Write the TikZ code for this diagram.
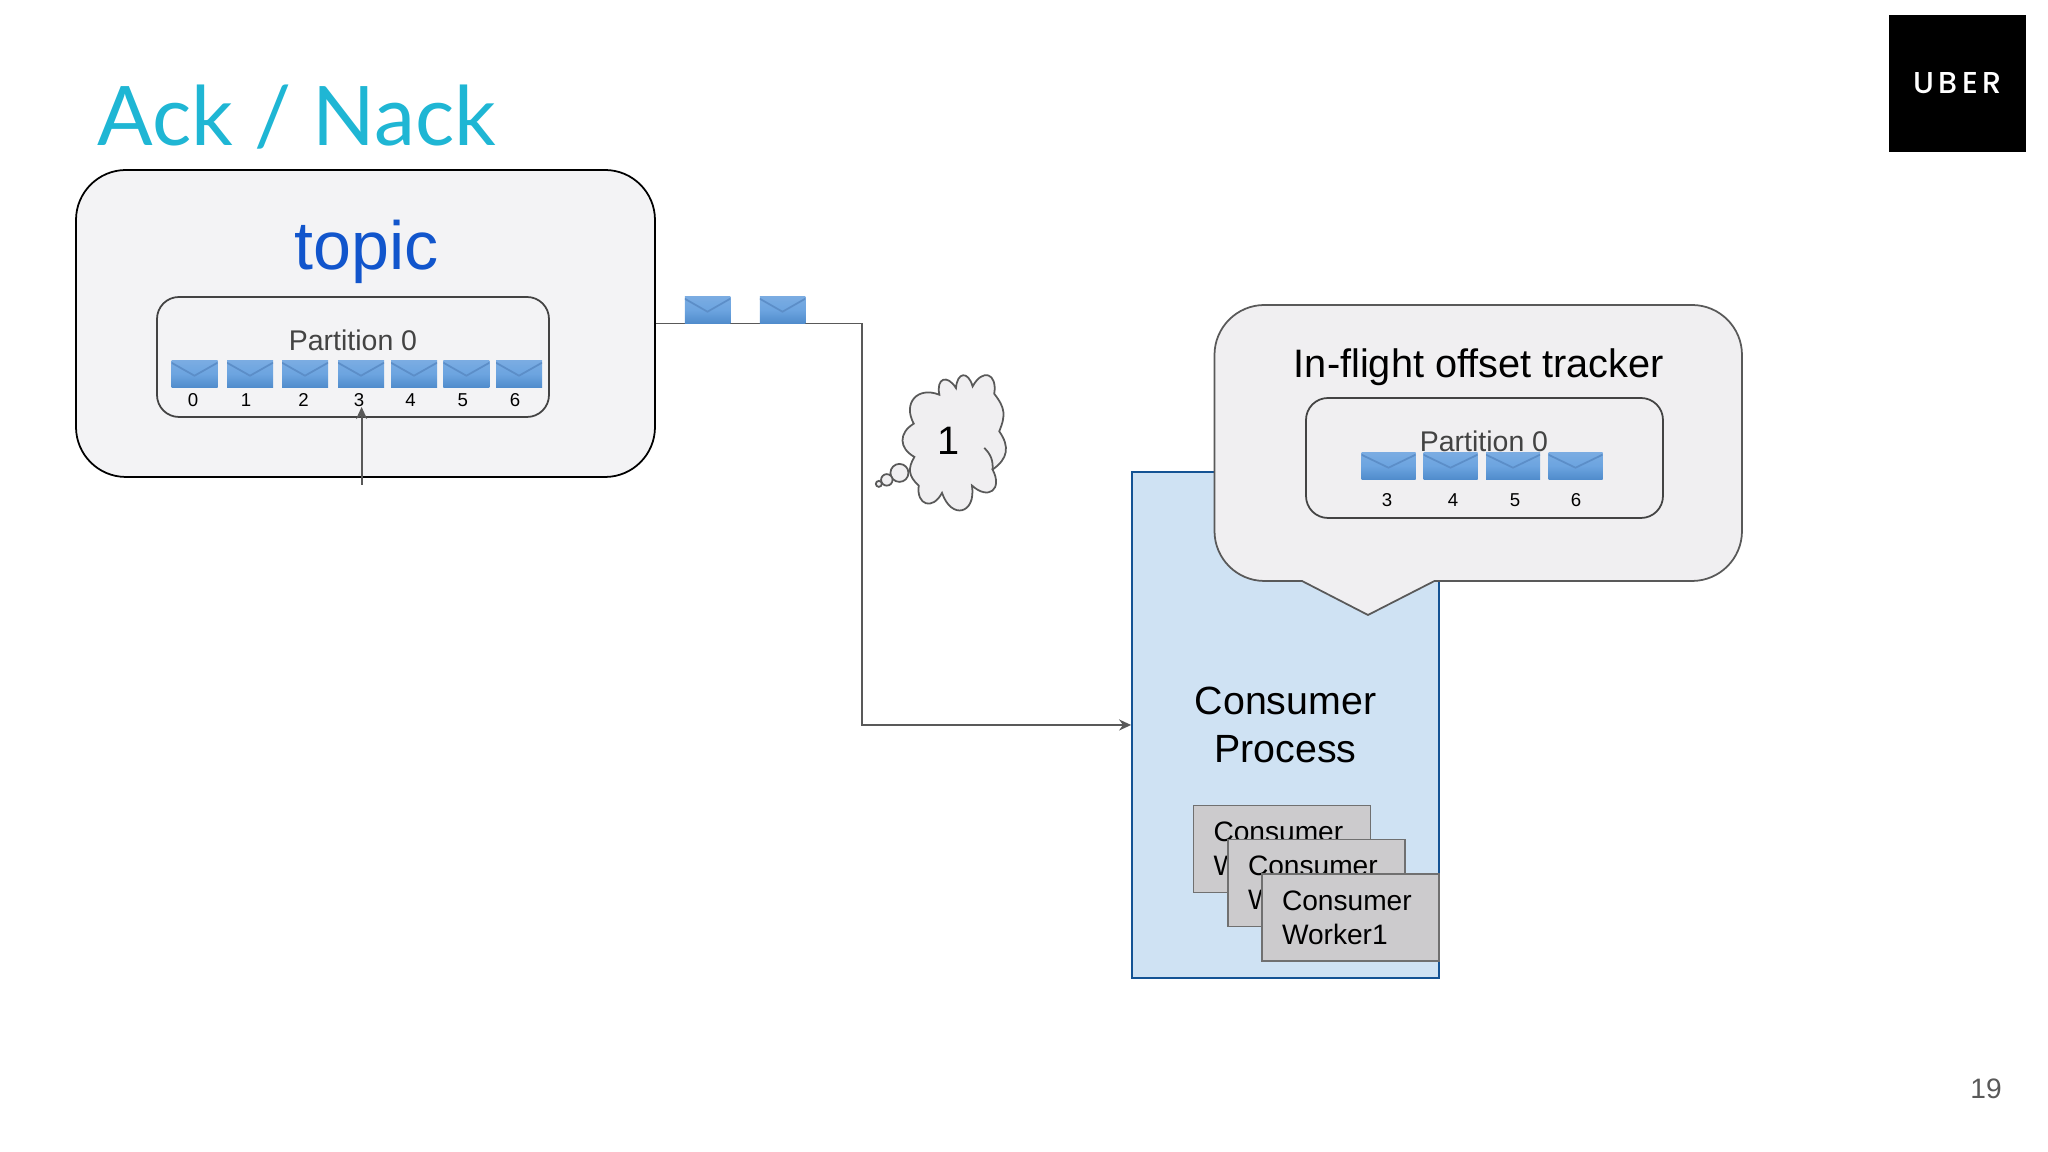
\documentclass[tikz,border=0pt]{standalone}
\usepackage{fontspec}
\setmainfont{Liberation Sans}
\newfontfamily\titlefont{Lato}
\newfontfamily\uberfont[LetterSpace=15]{Poppins Medium}
\usetikzlibrary{arrows.meta}
\tikzset{every picture/.style={line width=0.5pt}}
\definecolor{ack-cyan}{RGB}{31,182,212}
\definecolor{topic-blue}{RGB}{17,85,204}
\definecolor{box-gray}{RGB}{243,243,245}
\definecolor{bubble-gray}{RGB}{240,239,241}
\definecolor{line-gray}{RGB}{89,89,89}
\definecolor{text-gray}{RGB}{67,67,67}
\definecolor{proc-blue}{RGB}{207,226,243}
\definecolor{proc-line}{RGB}{20,83,148}
\definecolor{worker-gray}{RGB}{204,203,205}
\definecolor{worker-line}{RGB}{112,112,112}

\newcommand{\fsize}[2]{\fontsize{#1}{#2}\selectfont}

\begin{document}
\begin{tikzpicture}
    [outer/.style = {rectangle, draw=black, fill=box-gray, rounded corners=0.5cm,
            minimum width=5.79cm, minimum height=3.07cm},
    part/.style = {rectangle, draw=text-gray, rounded corners=0.22cm},
    parttext/.style = {text=text-gray, font=\fsize{8.1}{10}},
    num/.style = {font=\fsize{5.3}{6}},
    envelope/.style = {rectangle, inner sep=0pt, minimum width=#1, minimum height=0.265cm,
            top color=env-top, bottom color=env-bot, middle color=env-mid,
            path picture={
                \draw[env-line, line width=0.5pt]
                    ([yshift=-0.02cm]path picture bounding box.north west)
                    -- ([yshift=-0.15cm]path picture bounding box.north)
                    -- ([yshift=-0.02cm]path picture bounding box.north east);}},
    envelope/.default=0.46cm,
    flow/.style = {draw=line-gray, line width=0.55pt, -{Stealth[length=0.12cm, width=0.11cm]}},
    worker/.style = {rectangle, draw=worker-line, line width=0.5pt, fill=worker-gray, align=left,
            text width=1.37cm, inner xsep=0.2cm, minimum height=0.87cm, font=\fsize{8}{9.7}},
    cloudline/.style = {draw=line-gray, fill=bubble-gray, line width=0.5pt},
    ]
    \definecolor{env-top}{RGB}{122,172,226}
    \definecolor{env-mid}{RGB}{108,164,224}
    \definecolor{env-bot}{RGB}{80,140,204}
    \definecolor{env-line}{RGB}{92,142,200}

    \useasboundingbox (0, 0) rectangle (20.48, 11.52);

    \node[text=ack-cyan, font=\titlefont\fsize{23.4}{28}] (title) at (2.97, 10.35) {Ack / Nack};

    \node[fill=black, minimum width=1.37cm, minimum height=1.37cm] (logo) at (19.575, 10.685) {};
    \node[text=white, font=\uberfont\fsize{8.6}{9}] (logo-text) at (logo.center) {UBER};
    \node[text=line-gray, font=\fsize{8}{10}] (page) at (19.86, 0.63) {19};

    % topic side
    \node[outer] (topic) at (3.655, 8.285) {};
    \node[text=topic-blue, font=\fsize{19.4}{22}] (topic-text) at (3.67, 9.0) {topic};
    \node[part, minimum width=3.92cm, minimum height=1.2cm] (part) at (3.53, 7.95) {};
    \node[parttext] (part-text) at (3.53, 8.12) {Partition 0};
    \foreach \n/\x/\t in {0/1.945/1.93, 1/2.5/2.46, 2/3.05/3.035, 3/3.61/3.59, 4/4.14/4.106, 5/4.664/4.628, 6/5.19/5.15} {
        \node[envelope] (msg-\n) at (\x, 7.78) {};
        \node[num] (msg-\n-text) at (\t, 7.52) {\n};
    }
    \coordinate (ack-from) at (3.616, 6.67);
    \coordinate (ack-to) at (3.616, 7.45);
    \draw[flow] (ack-from) -- (ack-to);

    % consumer side
    \node[rectangle, draw=proc-line, fill=proc-blue, align=center, minimum width=3.07cm,
        minimum height=5.06cm, font=\fsize{11.2}{13.7}] (consumer) at (12.855, 4.27) {Consumer\\Process};
    \node[worker] (worker-3) at (12.82, 3.03) {Consumer\\Worker3};
    \node[worker] (worker-2) at (13.165, 2.69) {Consumer\\Worker2};
    \node[worker] (worker-1) at (13.505, 2.345) {Consumer\\Worker1};

    \coordinate (turn) at (8.62, 7);
    \draw[flow] (topic.east) -| (turn) |- (consumer.west);
    \node[envelope=0.455cm] (fly-1) at (7.075, 8.42) {};
    \node[envelope=0.455cm] (fly-2) at (7.825, 8.42) {};

    % tracker balloon
    \draw[draw=line-gray, fill=bubble-gray] (13.02, 5.71) [sharp corners] -- (13.68, 5.37) -- (14.345, 5.71)
        [rounded corners=0.5cm] -- (17.42, 5.71) -- (17.42, 8.47) -- (12.145, 8.47) -- (12.145, 5.71) -- (13.02, 5.71);
    \node[font=\fsize{11.3}{13}] (tracker) at (14.79, 7.85) {In-flight offset tracker};
    \node[part, minimum width=3.57cm, minimum height=1.2cm] (track) at (14.845, 6.94) {};
    \node[parttext] (track-text) at (14.84, 7.11) {Partition 0};
    \foreach \n/\x/\t in {3/13.885/13.87, 4/14.505/14.53, 5/15.13/15.15, 6/15.755/15.76} {
        \node[envelope=0.54cm] (off-\n) at (\x, 6.86) {};
        \node[num] (off-\n-text) at (\t, 6.52) {\n};
    }

    % cloud, in pixels of a 3x crop
    \begin{scope}[shift={(6.5, 8.72)}, x=0.003333cm, y=-0.003333cm]
        \draw[cloudline] (793,432) to[bend left=70, looseness=1.56] (870,345)
            to[bend left=80, looseness=2.4] (920,325)
            to[bend left=80, looseness=2.5] (970,320) to[bend left=80, looseness=2.35] (1035,342)
            to[bend left=30, looseness=1.2] (1050,455) to[bend left=45, looseness=1.24] (1030,570)
            to[bend left=80, looseness=2.2] (968,618) to[bend left=85, looseness=2.4] (878,640)
            to[bend left=80, looseness=2.1] (808,618) to[bend left=40, looseness=1.2] (795,532)
            to[bend left=60, looseness=1.37] (793,432) -- cycle;
        \draw[draw=line-gray] (1005,505) to[bend left=25] (1030,570);
        \node[circle, cloudline, minimum size=0.18cm, inner sep=0pt] (puff-1) at (750,580) {};
        \node[circle, cloudline, minimum size=0.115cm, inner sep=0pt] (puff-2) at (712,601) {};
        \node[circle, cloudline, minimum size=0.06cm, inner sep=0pt] (puff-3) at (688,613) {};
        \node[font=\fsize{11.3}{13}] (count) at (897,485) {1};
    \end{scope}
\end{tikzpicture}
\end{document}
